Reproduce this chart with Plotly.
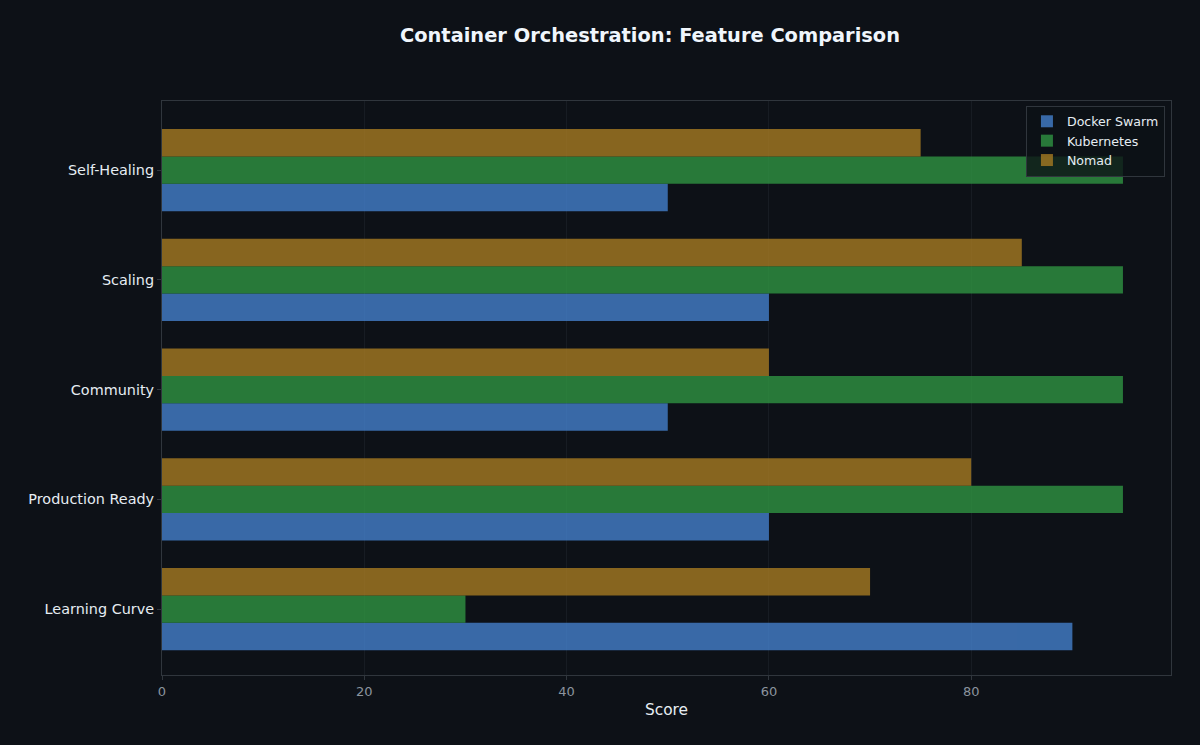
import plotly.graph_objects as go

# feature scores per orchestrator
categories = ["Learning Curve", "Production Ready", "Community", "Scaling", "Self-Healing"]
docker_swarm = [90, 60, 50, 60, 50]
kubernetes = [30, 95, 95, 95, 95]
nomad = [70, 80, 60, 85, 75]

series = [
    ("Docker Swarm", docker_swarm, "#4480cc"),
    ("Kubernetes", kubernetes, "#2f9442"),
    ("Nomad", nomad, "#a67a22"),
]

fig = go.Figure()
for name, vals, color in series:
    fig.add_trace(go.Bar(
        y=categories, x=vals, name=name, orientation="h",
        marker=dict(color=color, line=dict(width=0)), opacity=0.8,
    ))

fig.update_layout(
    width=1200, height=745,
    paper_bgcolor="#0d1117", plot_bgcolor="#0d1117",
    font=dict(family="DejaVu Sans", color="#e6edf3", size=13),
    title=dict(text="<b>Container Orchestration: Feature Comparison</b>",
               x=650 / 1200, xanchor="center", y=1 - 35 / 745, yanchor="middle",
               font=dict(size=19.4, color="#f0f6fc")),
    margin=dict(l=162, r=29, t=101, b=70),
    barmode="group", bargap=0.25, bargroupgap=0,
    legend=dict(x=0.994, xanchor="right", y=0.992, yanchor="top",
                bgcolor="rgba(13,17,23,0.8)", bordercolor="#30363d", borderwidth=1,
                font=dict(size=12.6, color="#e6edf3"), tracegroupgap=0,
                itemwidth=30),
    showlegend=True,
)
fig.update_xaxes(
    range=[0, 99.75], tickvals=[0, 20, 40, 60, 80],
    showgrid=True, gridcolor="#171c23", gridwidth=1, zeroline=False,
    showline=True, linecolor="#30363d", mirror=True,
    ticks="outside", ticklen=4, tickcolor="#30363d",
    tickfont=dict(size=13, color="#8b949e"),
    title=dict(text="Score", font=dict(size=15.4, color="#e6edf3"), standoff=6),
)
fig.update_yaxes(
    range=[-0.6, 4.63], showgrid=False, zeroline=False,
    showline=True, linecolor="#30363d", mirror=True,
    ticks="outside", ticklen=4, tickcolor="#30363d",
    tickfont=dict(size=14.4, color="#e6edf3"),
)

fig.write_html("out.html", config={"displayModeBar": False},
               post_script="document.body.style.margin='0';")
